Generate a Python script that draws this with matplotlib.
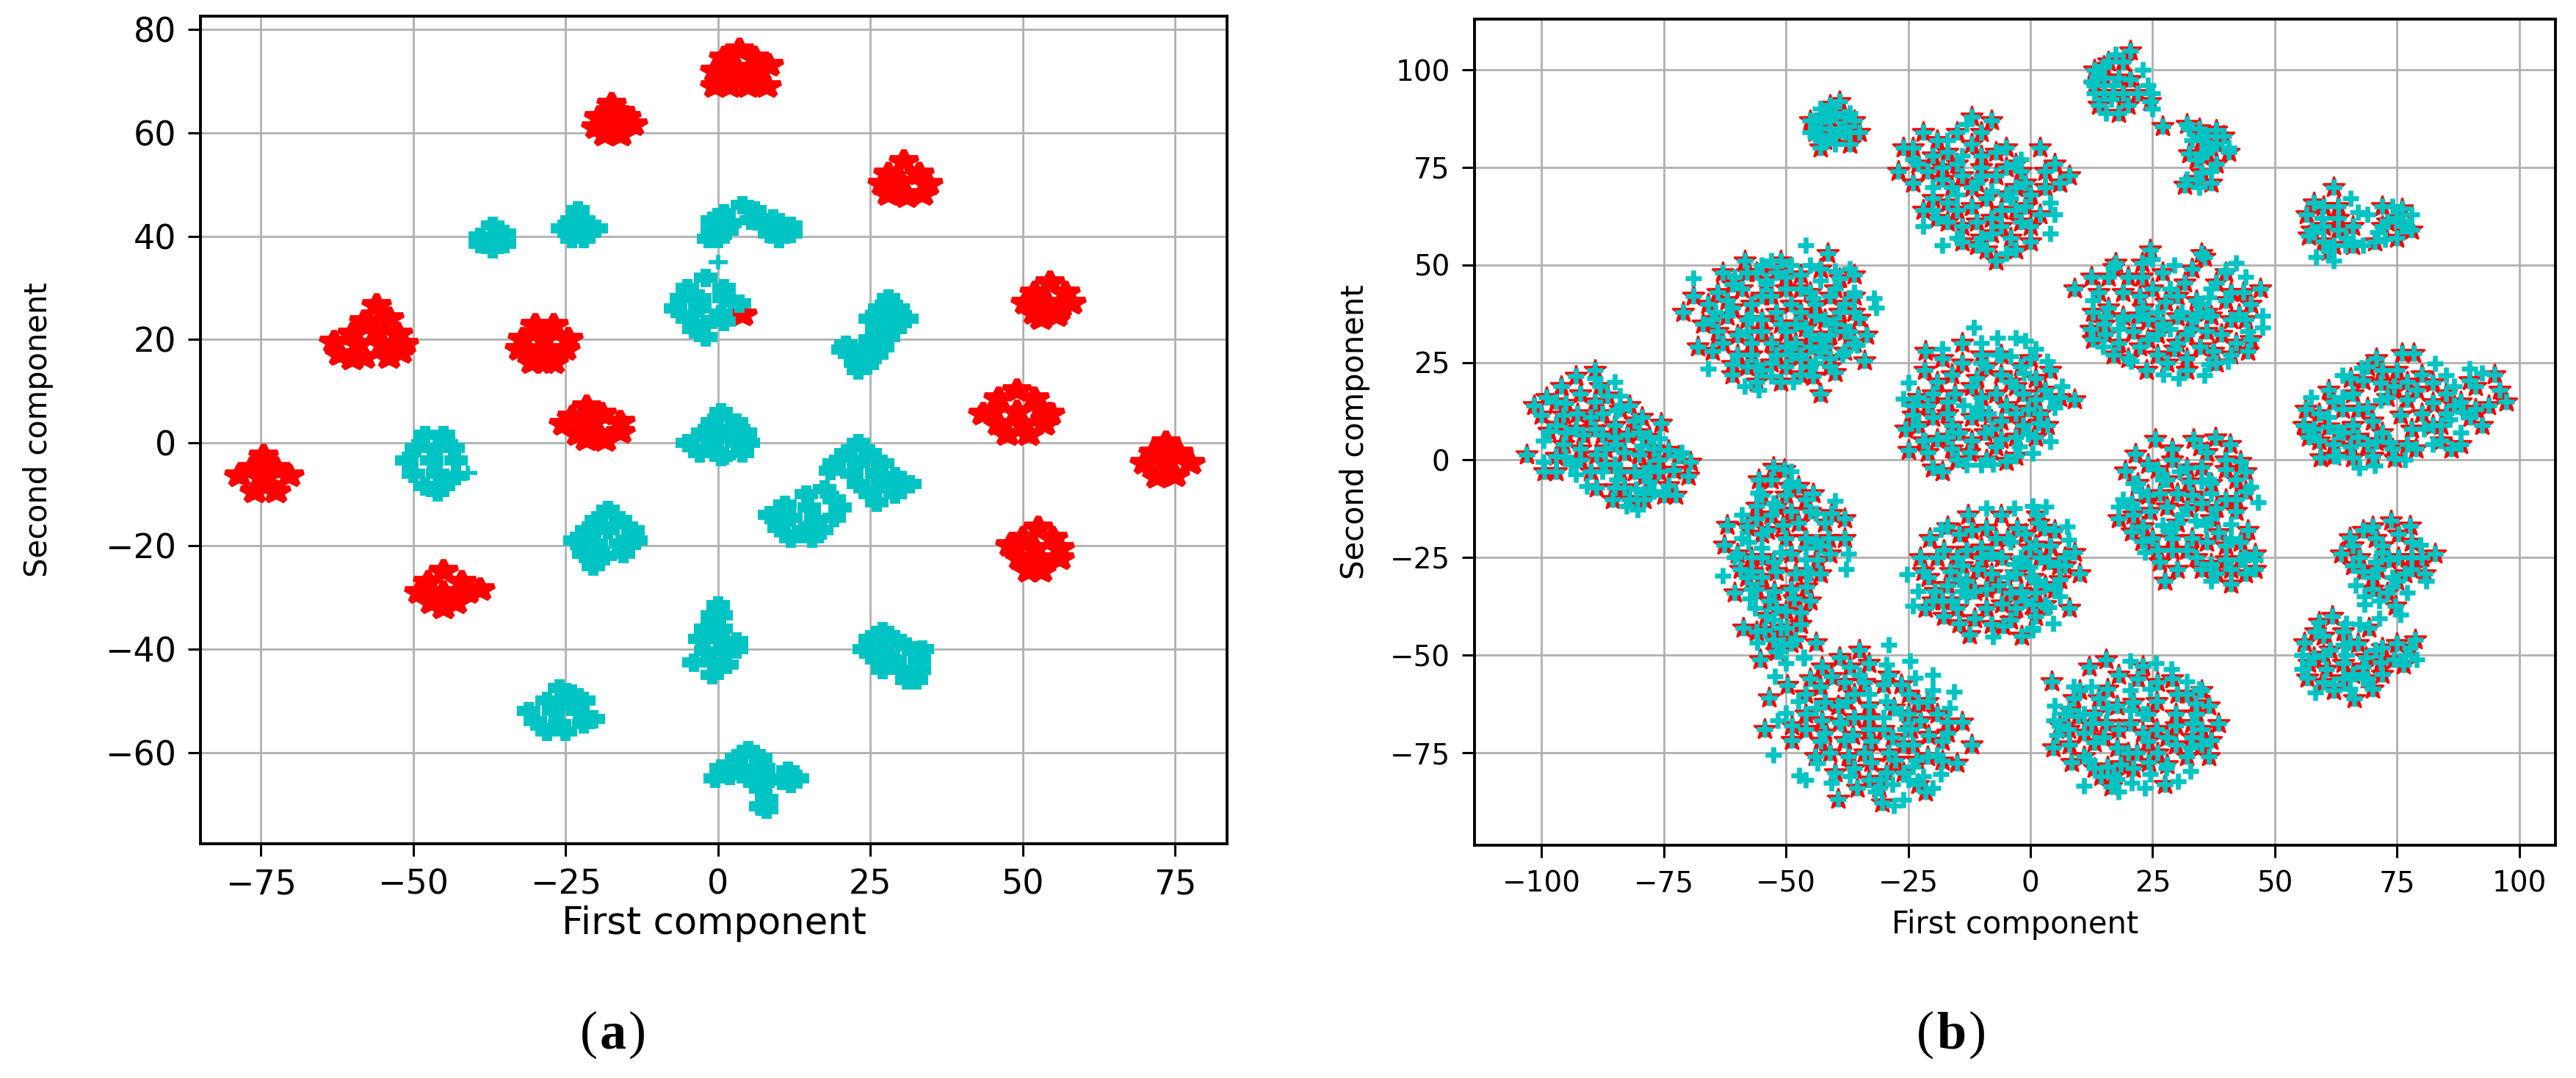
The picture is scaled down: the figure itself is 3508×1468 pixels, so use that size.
import matplotlib
matplotlib.use("Agg")
import matplotlib.pyplot as plt
from matplotlib.markers import MarkerStyle
from matplotlib.transforms import Affine2D

plt.rcParams.update({"font.family": ["DejaVu Sans"], "axes.unicode_minus": True})

W, H = 3508, 1468
RED = "#ff0000"
CYAN = "#00c4c4"
GRID = "#b0b0b0"

x_ticks_a = [-75, -50, -25, 0, 25, 50, 75]
y_ticks_a = [-60, -40, -20, 0, 20, 40, 60, 80]
x_ticks_b = [-100, -75, -50, -25, 0, 25, 50, 75, 100]
y_ticks_b = [-75, -50, -25, 0, 25, 50, 75, 100]

# panel (a), class one
a_red_1 = [(3.5,76),(1,74.5),(6,74.5),(-0.5,72),(3,72.5),(7,72),(8.3,73),(-0.5,69),(2,69),(5,69),(8,69),(4,70.5),(1,71),(6,71.5)]
a_red_2 = [(-17.5,65.5),(-19.5,63),(-15,63),(-20,61),(-17,62),(-14,61.5),(-18.5,59.5),(-16,59.5),(-16,64)]
a_red_3 = [(30.5,54.5),(28,52),(33,52),(27,50),(30,50.5),(34.5,50),(28,48),(31,47.6),(33.5,48)]
a_red_4 = [(-56,26.5),(-58,23.5),(-54,24),(-60,21),(-56,21.5),(-52.5,21),(-63,19.5),(-59,19),(-55,19),(-51.5,19),(-62,17),(-58,16.5),(-54,16.5),(-52,17.5),(-60,16.2)]
a_red_5 = [(-30,22.7),(-27,22.7),(-32,20),(-28.5,20),(-24.5,20),(-32.5,18),(-29,17.5),(-25,18),(-30.5,15.5),(-27,15.5),(-28.5,15.4)]
a_red_6 = [(54.5,31),(52,29),(57,29),(50.5,27),(54,27),(58,27),(52,25),(55.5,24.5),(53,24),(56,25.7)]
a_red_7 = [(-21.5,7),(-24,5),(-19,5.5),(-25.3,3.5),(-21,3.5),(-16,4),(-23,1.5),(-19.5,1.5),(-16,2),(-21.5,0.5),(-18.5,0.4)]
a_red_8 = [(49,10),(46,8.5),(52,8.5),(45,6),(49,6),(53,6.5),(43.5,5.5),(54.5,5.5),(46,3.5),(50,3.5),(53.5,3.5),(47.5,1.5),(51,1.5)]
a_red_9 = [(73.5,0),(71.5,-2),(75.5,-2),(70,-4),(73.5,-4),(77.5,-4),(72,-6.7),(75,-6.5)]
a_red_10 = [(-74.5,-2.6),(-76.5,-5),(-72.5,-5),(-78.5,-6.5),(-74.5,-7),(-70.3,-6.5),(-76,-9.5),(-72.5,-9.5)]
a_red_11 = [(-45,-25),(-47.5,-27),(-42,-27),(-49,-29),(-45,-29),(-41,-29),(-39,-28.5),(-47,-31),(-43,-31),(-45,-32)]
a_red_12 = [(52.5,-16.6),(50,-18.5),(55,-18.5),(48,-20),(52,-20.5),(56,-20.5),(49.5,-22.5),(53,-23),(56,-22.5),(51,-25),(53,-25)]
a_red_13 = [(4,24.7)]

# panel (a), class two
a_cyan_1 = [(-37,42),(-39,40),(-35,40.5),(-39,38.5),(-37,37.5),(-35,38.5),(-37,40)]
a_cyan_2 = [(-23,45),(-24,43),(-22,43),(-25.5,41.5),(-22.5,41),(-20,41.5),(-24,39.5),(-22,39.5)]
a_cyan_3 = [(4,46),(1,44.5),(6,45),(-1,43),(2,42.5),(5.5,43),(-1,41),(1.5,41),(-1.5,39.5),(0,39.5),(9,43.5),(7.5,42),(11,42),(8.5,40.5),(12,40.5),(10,39.5),(12,42)]
a_cyan_4 = [(-2,32),(-5,30),(1,30),(-6,28),(-3,28),(1,28),(3.5,27),(-7,26),(-3,26),(0.5,25),(-5,24),(-2,23),(1,23.5),(-4,22),(-2,20.5)]
a_cyan_5 = [(28,28),(26.5,26),(29.5,26),(25,24),(28,24),(31,24),(26,22),(29,22),(25,20),(28,20.5),(21,19),(24,18.5),(27,18.5),(20.5,18),(23,17),(26,17),(22.5,15.5),(24.5,15),(23,14)]
a_cyan_6 = [(-48,1.5),(-45,1.5),(-49.5,-1),(-46,-1),(-43.5,-1),(-51,-3.5),(-47,-3.5),(-43,-3.5),(-50,-6),(-46,-6),(-43,-6.5),(-48,-8.5),(-45,-8.5),(-46,-9.5)]
a_cyan_7 = [(0.5,6),(-1,4),(3,4),(-2.5,2),(1,2),(4.5,2),(-5,0),(-1,0),(3,0),(5,0),(-3,-2),(1,-2.5),(4,-2),(0.5,-2.8)]
a_cyan_8 = [(23,0),(21,-2),(25,-2),(19,-4),(23,-4),(27,-4),(18.5,-5.5),(22,-6),(26,-6),(29,-6.5),(23,-8),(27,-8),(31.5,-8),(25,-10),(29,-10),(26,-11.5)]
a_cyan_9 = [(17.5,-9),(14.5,-10),(19,-11),(11,-12),(15,-12.5),(20,-12.5),(8.5,-14),(12,-14.5),(16,-15),(19,-14.5),(10,-16.5),(14,-17),(17,-17),(12,-18.5),(15.5,-18.5)]
a_cyan_10 = [(-18,-13),(-20,-15),(-16,-15),(-21.5,-17),(-18,-17),(-14,-17),(-23.5,-19),(-20,-19.5),(-16,-19.5),(-13.5,-19),(-22,-21.5),(-18.5,-22),(-15.5,-21.5),(-20.5,-24)]
a_cyan_11 = [(0,-31.5),(-1,-33.5),(0.5,-33.5),(-2,-36),(0.5,-36),(-3,-38),(0,-38),(3,-38.5),(-2,-40.5),(1,-40.5),(3,-40),(-4,-42.5),(-1,-42.5),(1.5,-43),(-1,-45)]
a_cyan_12 = [(27,-36.5),(25,-38),(29,-38),(24,-40),(27,-40),(31,-39.5),(33.5,-40),(26,-42),(29,-42),(33,-42),(27,-44),(30,-44),(33,-44),(31,-46),(32.5,-46)]
a_cyan_13 = [(-26,-47.5),(-24,-48.5),(-28,-50),(-25,-50),(-22,-50),(-31,-52),(-27,-52),(-23,-52),(-20.5,-53.5),(-30,-54),(-26,-54.5),(-22,-54.5),(-28,-56),(-25,-56)]
a_cyan_14 = [(5,-59.5),(3,-61),(7,-61),(0.5,-63),(4,-63),(7.5,-63),(-0.5,-65),(2,-64.5),(5,-65),(8.5,-65),(11.5,-63.5),(13,-65),(10.5,-65.5),(12,-66),(7,-67),(8,-69),(7,-70.5),(8,-71)]
# lone points with thinner pluses
a_cyan_lone = [(0,35),(-41,-5.8)]

# panel (b), points marked with a star (they also carry a plus)
b_star_1 = [(-39,92),(-41,91),(-45,87),(-36,87),(-35,84),(-37,81),(-43,80),(-42,82),(-39,85),(-42,88),(-40,89),(-38,88),(-44,84),(-41,87),(-37,84),(-40,83),(-43,85)]
b_star_2 = [(-26,80),(-22,84),(-12,88),(-8,87),(-5,80),(-27,74),(2,80),(8,73),(-22,64),(-17,66),(0,60),(-7,51),(0,56),(-11,55),(-14,60),(-20,78),(-15,76),(-10,78),(-7,73),(-18,72),(-12,70),(-5,68),(-3,64),(-8,62),(-12,65),(-10,57),(0,68),(3,70),(5,76),(-2,74),(-21,74),(-17,61),(-4,57)]
b_star_3 = [(20.5,105),(15,101),(13,100),(16,102),(19,102),(13,96),(14,91),(18,89),(20,91),(24.5,92),(17,94),(20.5,97.5),(15,98),(18,98),(27,85.5),(32,86),(34.5,85),(39.5,83),(38,84.5),(40.5,79),(32.5,78.6),(34,77),(38,76),(31.5,70.5),(37,71),(35,73.6),(37,80),(35,82),(14,99),(22,94),(19,94),(15,94),(36,79),(35,78),(34,72),(36,83),(38,81)]
b_star_4 = [(62,70),(58,66),(56.5,63),(60,65),(63,65),(57.5,59),(57,57.5),(72,65),(76,64.5),(73,61),(78,59),(75,57),(70.5,56),(62,55),(63,59),(61,53.5),(60,60),(63,62),(66,60),(60,56),(72,60),(76,60),(75,62),(66,55)]
b_star_5 = [(-71,38),(-69,42),(-68,29),(-65,28),(-67,35),(-63,48),(-58.5,51),(-51,51),(-47,47.5),(-41.5,53),(-39,46.5),(-36,47.5),(-35,36.5),(-33.5,32),(-34,25.5),(-40,22.5),(-44.5,21.5),(-43,17),(-51,20),(-61,22),(-61,24.5),(-41,26),(-64,43),(-59,44),(-54,46),(-50,44),(-45,43),(-41,42),(-38,40),(-62,37),(-57,40),(-52,38),(-47,38),(-42,36),(-38,33),(-60,32),(-55,33),(-50,33),(-45,32),(-41,32),(-36,42),(-57,27),(-52,27),(-47,27),(-42,29),(-60,27),(-55,23),(-50,24),(-56,48),(-61,39),(-65,36),(-48,35),(-55,36),(-44,37),(-53,30),(-48,30),(-39,38)]
b_star_6 = [(-103,1.5),(-99.5,-3),(-97,-3),(-101.6,14),(-99,16),(-96,19),(-93,21.5),(-89,23),(-86.5,16.5),(-82,14),(-79.5,11),(-75.5,9.5),(-80,7),(-74,2.5),(-69.6,-0.5),(-72.6,-9),(-85.5,-10),(-88.7,-7),(-100,11.5),(-98.5,7.5),(-95.6,4),(-91.5,6.5),(-89,8),(-92.7,12),(-87.5,6.5),(-84.7,4),(-82.4,6.5),(-92,0),(-88.7,1.5),(-80,1.5),(-78,-5.5),(-74,-6.5),(-81,-3),(-73,-2.5),(-83,-7),(-78,-1.7),(-95,14.6),(-89,15),(-85,9),(-87.5,12),(-95.6,11.5)]
b_star_7 = [(-21.5,28),(-14,30),(-10,27),(-21.7,23),(0,26),(4,23),(9,15.5),(-24,11.5),(-25.6,8),(-25,2.5),(-20,-2),(-18,-3),(-5,-0.3),(3.4,9),(1.6,9.5),(-20,11),(-16,22),(-14,25),(-11,21),(-6,22),(-1.5,17),(1,15.5),(-15.5,17),(-10,16),(-5,14),(-17,12),(-12,11),(-6,10),(-1.5,9),(-20,17),(-14.6,7),(-19,5.4),(-6,5.4),(-9.3,7),(-12.4,2),(-7,3.5),(-0.5,13),(-21,14)]
b_star_8 = [(9,44),(12.4,47),(17.5,50.6),(12.7,38),(12.3,33.6),(12.7,31),(17,27),(23.7,23),(32,23),(37.4,28),(44.4,28),(47,44),(43.5,43),(42.7,37.3),(35.6,52),(22.8,47),(31.5,45.5),(38,45.5),(22.4,42),(27.7,40.5),(33.9,41),(24,36),(30,36.7),(37,37),(26,32.3),(32,32.3),(39,32.3),(22.4,29),(29.4,28.6),(41,36),(19,43),(19,36.7),(15.3,32.3),(34.7,29),(22.8,50.6),(24.5,54),(35,53),(17,49.4)]
b_star_9 = [(61,18),(56.3,13),(55.9,9),(57,6),(59.4,0.7),(66,0.7),(74.5,0.4),(78.8,3),(86,3),(92.4,9),(97.3,15),(95,22),(89.8,20.5),(76,27.4),(78.4,27.4),(70.8,26),(65.5,21),(68,20.4),(74.4,19),(82.3,19.8),(86.7,14),(70,10),(75.7,11.6),(82.3,9),(63.8,13),(61,8.5),(69,13.5),(77,15.5),(82.3,14.8),(93.7,14),(91,19),(65.5,3.5),(70.8,4.8),(77,4),(84,9),(71.7,19.8)]
b_star_10 = [(25.5,5.4),(33.4,5.4),(37.8,5.7),(40.9,4),(21.5,1.6),(19.4,-2.8),(44,-3),(43,-0.3),(34.7,3.5),(18,-15),(20.8,-18.3),(22.8,-20.8),(26.5,-26),(27.5,-31),(35,-28),(41,-31.7),(46,-28),(46,-24),(44.5,-18),(42,-10),(40,-10),(26.5,-8.6),(24.5,-13),(30,-8.6),(32,-12.4),(38,-12.4),(33,-20),(29,-23),(38.5,-18.6),(40,-25.5),(43,-25.5),(37,-26.7),(32,-23),(26,-2.4),(29,0),(35,-1.8),(40,-2.4),(32.5,-5.5),(20.8,-11)]
b_star_11 = [(-20.5,-20),(-22.6,-25),(-22,-28.6),(-12.7,-14),(-6,-14),(1.3,-14),(-14.5,-19),(-17.7,-23),(-15,-25),(-21.4,-38),(-17.7,-40),(-12.4,-44.6),(-1.8,-45),(-5.5,-42.4),(-11.4,-40.5),(-14.5,-41.8),(0.5,-37),(-20.8,-30),(-16.4,-28.6),(-19.5,-33.6),(-17,-32),(-10.8,-28),(-5.8,-25),(-10,-22.4),(-4.6,-20),(-0.2,-22.4),(2.9,-17.4),(-6.5,-32),(-2,-33.6),(-11.4,-33.6),(-5.8,-36.8),(-9,-17.4),(-2.7,-17.4),(10,-29),(9,-23.6),(8,-38),(6,-30.5),(1.7,-16),(5.8,-27),(1,-21.7),(3,-32),(-1,-36),(3.7,-26),(0.4,-30)]
b_star_12 = [(-52.5,-1.8),(-50.3,-2.4),(-55.6,-4.9),(-44.4,-8.6),(-56,-11.7),(-40.7,-13.6),(-38,-15),(-38,-20),(-41.3,-20),(-62,-16.7),(-62.7,-21.7),(-59.4,-28),(-57,-28.6),(-60.6,-34),(-45.8,-28.6),(-43.6,-25.5),(-45.8,-32.4),(-48.3,-35.5),(-52,-28.6),(-48,-29),(-52.4,-33.6),(-53.5,-36),(-50,-38.6),(-54.4,-43.6),(-58.7,-43),(-49.9,-43),(-48,-46),(-43.9,-46.8),(-55.3,-51),(-52.5,-46),(-50.6,-16.7),(-47.5,-16),(-53.7,-18),(-49.4,-6.7),(-47.5,-6.7),(-52,-11.7),(-57,-24.9),(-52.5,-26)]
b_star_13 = [(-35,-48.6),(-39,-50.5),(-42.6,-53),(-45,-56),(-49.7,-57.7),(-53.4,-60.8),(-54.4,-69),(-48.8,-68),(-48.8,-71.8),(-43,-72),(-26.4,-57.4),(-21,-61.8),(-14,-67),(-16.9,-70),(-12,-73),(-15,-77.7),(-21.4,-85),(-30.4,-87.7),(-39.4,-86.8),(-35.4,-84),(-40,-80),(-40.7,-55.5),(-43,-58),(-30,-57.4),(-37.6,-61.8),(-39.4,-63),(-42.6,-66.8),(-33,-66),(-28,-63.6),(-22.6,-66.8),(-20.8,-70.5),(-36.3,-70.5),(-32.6,-72),(-28.2,-71),(-24,-73),(-37.3,-76),(-32.6,-77.4),(-27.6,-76.8),(-23.3,-76.8),(-30.7,-81.8),(-29.5,-80),(-38,-71.8),(-24.5,-69)]
b_star_14 = [(15.5,-51),(12,-53),(4.4,-56.8),(8.8,-61),(23,-52.7),(29,-56),(35,-59),(36.5,-63),(38.5,-67.4),(37,-71.8),(36.5,-76),(4.7,-73.6),(8.4,-77.4),(14.4,-81),(16.5,-83.6),(27.5,-83),(24.2,-77.4),(15.8,-58.6),(17.8,-63),(9.8,-65.5),(12.4,-67.4),(15.5,-67.4),(20.5,-67.4),(25.8,-69),(29.8,-73),(33,-67.4),(29.8,-65),(25.8,-61.8),(13,-72.4),(17.8,-73.6),(21.8,-74.9),(15.8,-78.6),(18.5,-78),(33.8,-62.4),(35,-69),(7.8,-69),(29.8,-68)]
b_star_15 = [(73.8,-15.5),(77.6,-16.8),(68,-18),(65.3,-19.9),(63.6,-24),(82.7,-24),(80.7,-29),(75.3,-19),(70.6,-20),(70,-30),(74.6,-37.4),(76.6,-29),(78,-25),(68,-28.6),(73.3,-25.5),(67.3,-25),(75.3,-25)]
b_star_16 = [(61.8,-40),(59,-41.4),(69.3,-43),(58.3,-44),(56,-46.8),(56.6,-55.8),(62,-59),(66.3,-61),(70,-58.6),(71.6,-51.8),(72,-54.9),(78.7,-46),(76.3,-52.4),(74.3,-51),(65.3,-46.8),(60.6,-53.6),(66,-54.9),(61.3,-48.6),(58,-50.5),(68.6,-50.5),(77.6,-48)]

# panel (b), further points in the dense middle of the big groups
b_fill_2 = [(-24,80),(-19,82),(-15,84),(-10,84),(-17,79),(-12,81),(-7,79),(-3,76),(-23,76),(-18,75),(-14,73),(-10,75),(-5,75),(-1,71),(3,74),(6,71),(-24,71),(-20,67),(-16,70),(-9,67),(-1,65),(2,63),(-19,62),(-15,64),(-11,61),(-6,60),(-2,61),(-14,56),(-8,58),(-3,54),(-6,64),(-11,71),(-3,70),(-9,54)]
b_fill_5 = [(-66,40),(-61,45),(-58,48),(-52,48),(-47,44),(-43,49),(-40,44),(-36,38),(-64,33),(-63,30),(-58,36),(-53,42),(-49,40),(-44,40),(-40,35),(-57,30),(-51,35),(-46,34),(-43,31),(-38,28),(-36,30),(-58,24),(-53,25),(-49,27),(-45,24),(-41,24),(-56,20),(-47,22),(-62,41),(-50,47),(-55,42),(-45,29),(-50,29)]
b_fill_6 = [(-97,15),(-92,17),(-88,19),(-84,13),(-97,9),(-93,8),(-90,11),(-85,6),(-81,10),(-78,6),(-77,3),(-95,7),(-97,1),(-92,3),(-87,-1),(-83,2),(-90,-3),(-85,-7),(-79,-4),(-76,-3),(-72,1),(-70,-4),(-75,-9),(-79,-10),(-87,3),(-84,-3),(-82,-10),(-76,0)]
b_fill_7 = [(-18,26),(-6,27),(-2,24),(-19,20),(-9,24),(-4,20),(1,21),(-23,16),(-17,15),(-12,19),(-7,17),(-3,19),(3,18),(6,16),(-23,9),(-16,9),(-10,12),(-3,12),(2,12),(-22,5),(-16,3),(-12,5),(-3,6),(1,6),(-21,2),(-15,0),(-9,0),(-3,1),(-24,14),(-8,8),(-17,6)]
b_fill_8 = [(16,47),(20,47),(27,48),(33,49),(40,48),(14,43),(25,44),(41,43),(16,39),(23,39),(45,40),(15,35),(21,33),(27,35),(33,36),(40,41),(44,36),(18,30),(24,31),(30,30),(36,33),(42,30),(20,26),(26,27),(32,26),(38,25),(28,25),(45,31),(30,42),(36,38),(22,37),(41,27)]
b_fill_9 = [(59,12),(59,5),(62,4),(62,15),(66,17),(66,9),(72,23),(75,23),(80,22),(73,16),(79,18),(85,17),(88,15),(91,13),(96,18),(84,5),(88,4),(67,6),(72,7),(78,8),(74,3),(69,4),(62,1),(70,1),(80,12),(85,12),(90,11),(64,7),(67,13),(77,20),(69,24),(58,8)]
b_fill_10 = [(29,3),(36,2),(40,0),(24,-1),(32,-2),(22,-6),(28,-5),(37,-6),(42,-5),(24,-9),(33,-9),(44,-8),(21,-14),(28,-12),(35,-11),(42,-13),(23,-17),(30,-16),(37,-15),(25,-20),(36,-21),(43,-21),(26,-23),(34,-25),(40,-22),(30,-28),(38,-29),(44,-29),(29,-20),(41,-28)]
b_fill_11 = [(-17,-17),(-12,-18),(-7,-20),(-1,-19),(5,-18),(-19,-25),(-13,-23),(-8,-24),(-2,-26),(4,-22),(7,-25),(-20,-36),(-14,-27),(-8,-29),(-3,-29),(7,-27),(-16,-36),(-13,-31),(-9,-33),(-4,-34),(1,-34),(5,-33),(-15,-38),(-9,-38),(-3,-38),(3,-37),(-8,-42),(-4,-41),(1,-40),(-18,-36),(-10,-25),(2,-25)]
b_fill_12 = [(-53,-5),(-50,-9),(-46,-10),(-55,-9),(-53,-14),(-49,-13),(-45,-13),(-42,-16),(-56,-15),(-50,-20),(-46,-20),(-41,-24),(-58,-17),(-55,-19),(-60,-24),(-55,-25),(-49,-24),(-43,-29),(-55,-30),(-49,-33),(-45,-36),(-56,-33),(-52,-38),(-47,-39),(-54,-40),(-51,-43),(-47,-42),(-56,-44),(-52,-49),(-49,-47),(-58,-30),(-43,-22)]
b_fill_13 = [(-37,-53),(-33,-52),(-38,-57),(-34,-57),(-29,-55),(-25,-60),(-23,-62),(-19,-65),(-17,-67),(-46,-60),(-42,-62),(-36,-60),(-33,-63),(-46,-65),(-39,-67),(-36,-66),(-30,-69),(-25,-65),(-18,-72),(-46,-69),(-41,-75),(-34,-75),(-26,-73),(-21,-76),(-18,-77),(-44,-76),(-36,-79),(-33,-82),(-26,-80),(-23,-83),(-31,-84),(-42,-70),(-33,-69),(-29,-75)]
b_fill_14 = [(18,-55),(22,-56),(26,-57),(32,-60),(10,-59),(14,-61),(21,-62),(30,-60),(8,-64),(13,-65),(24,-65),(34,-65),(6,-68),(11,-70),(18,-69),(23,-70),(28,-71),(33,-71),(8,-73),(15,-71),(20,-75),(26,-75),(32,-76),(11,-76),(17,-81),(21,-79),(28,-78),(13,-79),(35,-73),(24,-72)]
b_fill_15 = [(66,-22),(70,-17),(72,-22),(78,-21),(80,-25),(66,-27),(71,-28),(75,-31),(78,-28),(73,-34),(70,-33)]
b_fill_16 = [(60,-45),(64,-44),(67,-47),(60,-50),(64,-52),(68,-53),(57,-52),(60,-57),(64,-56),(69,-56),(72,-48),(75,-47)]

# panel (b), points that only show a plus
b_plus_1 = [(-45,84),(-43,90),(-37,89),(-40,81),(-44,87),(-41,85),(-38,84),(-44,83)]
b_plus_2 = [(-17,82),(-13,86),(-20,70),(-24,77),(-2,77),(4,66),(5,63),(4,58),(-18,55),(-22,60),(-20,64),(-15,57),(-5,53),(-4,67),(-10,73),(-14,78),(-15,68),(-8,69)]
b_plus_3 = [(17.5,104),(23,100),(24,96),(25,94),(25,90),(12.5,97),(13,94),(15.5,89),(17,96),(16.5,92.5),(40.5,80),(35,83),(32,72),(34.5,70),(32.5,85),(37,74),(33,82)]
b_plus_4 = [(65.5,67),(67,63.5),(69,63),(74,65),(78,63),(71,58.5),(58,58.5),(58.5,52),(62,51),(64.5,55),(66,56),(68,55),(77,60),(72.6,56.5),(64.6,57),(59.6,62)]
b_plus_5 = [(-69,46.5),(-46,55),(-45,50),(-40,48.5),(-37,49),(-32,41.5),(-31.5,39),(-35.5,29.5),(-38.5,27),(-66,23.5),(-58.5,19),(-55.5,18),(-48.5,20),(-47,26),(-44,25),(-60.5,47),(-64.5,38),(-57,36.5),(-58,33),(-55,50),(-53,51),(-49,50),(-43,46),(-44.5,41.5),(-54,45),(-56,24),(-53,21.5),(-36,43),(-37,33),(-43,28)]
b_plus_6 = [(-85,20),(-89,21),(-84,16.5),(-99.6,-0.5),(-93,-3.6),(-90.7,-6.7),(-82.6,-11.7),(-80.3,-12.7),(-75.8,5.5),(-71.4,2),(-79.5,3.6),(-95,0.8),(-99.6,5),(-94,-1),(-87.5,-3),(-85,-1),(-84.6,-5),(-80.6,-7.4),(-77,-8),(-79,-8.6),(-84.7,12.7)]
b_plus_7 = [(-11.5,34),(-6.7,31.4),(-3,31.4),(-1,30.5),(1,28.5),(-18,28.5),(-10,30),(-4,26.7),(3.4,25.4),(6.5,19),(-25,19.8),(-26,15.7),(4,16),(5,13.5),(4,4.8),(0.4,1.7),(-13,-1.2),(-10,-1.2),(-7.6,-1),(-21.7,5),(-2.3,3.5),(-0.5,6.6),(-10,25),(-6.7,27),(-13.7,14),(-11,13.5),(-8.5,12),(-1.4,22.3)]
b_plus_8 = [(25,51.4),(29.4,50),(42,50.6),(44,47),(47.5,37),(47.5,34),(44.4,33),(40.4,25.4),(36.5,24.5),(35.6,21.7),(30.3,21),(27.2,22),(20.6,25.4),(14.9,29),(12.7,41),(18,33.6),(15.3,36.7),(19,36),(31,38),(34,36.7),(36.5,41.6),(40,48.6),(28.5,44),(26,38),(32.9,33.6),(37,44),(28.5,33.6),(34.7,39.9)]
b_plus_9 = [(67.3,-2),(70.4,-1.5),(62.9,1),(76.6,0),(82.3,4),(88,7),(89.8,23.5),(92.4,22.3),(82.7,24.8),(85,21.7),(86.7,19),(67.8,23.6),(63.8,21.7),(57.4,16),(63.8,16),(71.7,15.4),(88.5,12.3),(61,11),(62.9,7.3),(73.5,4.7),(80.5,8),(85.8,10.4)]
b_plus_10 = [(46.5,-10.8),(19,-10),(18,-12),(21,-12.4),(22.5,-8),(21,-6),(41,-16.4),(41,-20),(45,-6.8),(37,-31),(23.5,-23.6),(28.5,-18.6),(28.5,-17.4),(35,-5.5),(30.5,-3),(45.9,-25.5),(43.9,-24.9),(37,-8.6),(33.8,-15.5),(27,-16.7),(31,-14),(36.5,-5),(27,-5),(35.9,-16.7)]
b_plus_11 = [(-18.3,-17.7),(-9,-12.4),(-3.3,-12.4),(0.4,-11.7),(3.2,-12),(-25.2,-29.2),(-23,-33.6),(-24,-37.4),(-7.7,-45.2),(0.5,-43),(3.8,-37.7),(7.5,-17),(6,-35),(4.7,-41.8),(0.4,-43.6),(3.4,-37.7),(7.8,-20.5),(-14,-33.6),(-13,-35),(-3.3,-26.7),(-2,-25),(-14.5,-30.5),(-4,-21),(-0.2,-27.4),(-4.6,-30),(1,-31)]
b_plus_12 = [(-55.7,-8.3),(-40,-10.5),(-59,-14),(-59,-20),(-60.6,-25),(-63,-29.7),(-57,-33),(-57.3,-35.5),(-37.3,-24),(-37.7,-28),(-45,-29),(-46.3,-50.5),(-50,-52),(-55.8,-46.8),(-51,-49),(-52.5,-11),(-46,-22.4),(-46,-25.5),(-57.7,-21),(-48.9,-3),(-48.9,-5.5),(-51,-23.6),(-55,-22.4),(-43.8,-13.6),(-43.8,-21),(-56.3,-38),(-52.5,-41),(-50.6,-47.4)]
b_plus_13 = [(-29,-47.4),(-24.6,-51.4),(-20,-55),(-23.6,-55.8),(-29.4,-52.4),(-20,-59),(-15.6,-59.4),(-16.5,-63.5),(-52.2,-55.4),(-46.4,-50.8),(-47.4,-61.8),(-50,-64.9),(-51.6,-66.8),(-52.5,-75.5),(-43.5,-77.7),(-47.3,-80.8),(-46,-82),(-40.7,-82.7),(-37,-81),(-18.3,-80.5),(-20,-84),(-26,-87),(-28,-88.6),(-31.7,-85),(-28.2,-83),(-25,-82),(-22,-81),(-19,-75.5),(-43.8,-63.6),(-35,-55),(-33,-60),(-29.5,-61.8),(-25.7,-69),(-38.8,-67.4),(-30,-66),(-26.4,-64.9),(-24,-78.6)]
b_plus_14 = [(20.5,-51.4),(25.7,-52),(28.8,-53.6),(34.5,-58.6),(32,-56.8),(8.8,-58),(5,-63),(4.8,-66.8),(5.4,-70.5),(32.8,-79.6),(27.8,-79),(30.2,-82.4),(20.8,-82.7),(23.5,-84),(18,-85),(11,-83.5),(12,-76.8),(32.8,-73.6),(24.5,-80.5),(17.8,-81.8),(12.4,-58),(20.5,-59),(24.5,-58.6),(23,-65),(20.5,-64),(11,-65),(7,-65),(15.8,-63.6)]
b_plus_15 = [(79.7,-21.8),(66.6,-32),(68.3,-35),(68.3,-37),(71.3,-36),(77,-34),(75.7,-39.6),(71.3,-40.5),(81,-31),(74,-32.4),(74,-30),(70.6,-26),(72,-23.6)]
b_plus_16 = [(58.3,-59.6),(67.3,-42),(64.6,-41.8),(55.6,-53.6),(55.6,-50),(76.7,-50),(79,-51),(64.6,-50),(64,-47.4),(65.3,-58.6),(62,-57.4),(68,-56),(70.6,-48.6)]

a_red = [a_red_1, a_red_2, a_red_3, a_red_4, a_red_5, a_red_6, a_red_7, a_red_8, a_red_9, a_red_10, a_red_11, a_red_12, a_red_13]
a_cyan = [a_cyan_1, a_cyan_2, a_cyan_3, a_cyan_4, a_cyan_5, a_cyan_6, a_cyan_7, a_cyan_8, a_cyan_9, a_cyan_10, a_cyan_11, a_cyan_12, a_cyan_13, a_cyan_14]
b_star = [b_star_1, b_star_2, b_star_3, b_star_4, b_star_5, b_star_6, b_star_7, b_star_8, b_star_9, b_star_10, b_star_11, b_star_12, b_star_13, b_star_14, b_star_15, b_star_16,
          b_fill_2, b_fill_5, b_fill_6, b_fill_7, b_fill_8, b_fill_9, b_fill_10, b_fill_11, b_fill_12, b_fill_13, b_fill_14, b_fill_15, b_fill_16]
b_plus = [b_plus_1, b_plus_2, b_plus_3, b_plus_4, b_plus_5, b_plus_6, b_plus_7, b_plus_8, b_plus_9, b_plus_10, b_plus_11, b_plus_12, b_plus_13, b_plus_14, b_plus_15, b_plus_16]


def pixel_axes(fig, left, top, right, bottom):
    return fig.add_axes([left / W, 1 - bottom / H, (right - left) / W, (bottom - top) / H])


def scatter(ax, clusters, marker, color, size, mew):
    for pts in clusters:
        xs, ys = zip(*pts)
        ax.plot(xs, ys, ls="none", marker=marker, color=color, ms=size, mew=mew)


def style(ax, xlim, ylim, xticks, yticks, tick_size, xlabel_size, labelpad, label_x):
    ax.set_xlim(*xlim)
    ax.set_ylim(*ylim)
    ax.set_xticks(xticks)
    ax.set_yticks(yticks)
    ax.grid(True, color=GRID, lw=2.0)
    ax.set_axisbelow(True)
    ax.tick_params(length=12, width=2.2, pad=12, labelsize=tick_size)
    for spine in ax.spines.values():
        spine.set_linewidth(2.8)
    ax.set_xlabel("First component", fontsize=xlabel_size, labelpad=labelpad)
    ax.set_ylabel("Second component", fontsize=30)
    ax.yaxis.set_label_coords(label_x, 0.5)


def caption(fig, letter, xs):
    y = 1 - 1427 / H
    for text, x, weight in zip(["(", letter, ")"], xs, ["normal", "bold", "normal"]):
        fig.text(x / W, y, text, ha="center", va="baseline", fontsize=52, family="Liberation Serif", weight=weight)


fig = plt.figure(figsize=(W / 100, H / 100), dpi=100)

ax_a = pixel_axes(fig, 273, 22, 1671, 1149)
star_wide = MarkerStyle("*", transform=Affine2D().scale(1.4, 1))
plus_wide = MarkerStyle("+", transform=Affine2D().scale(1.3, 1))
scatter(ax_a, a_red, star_wide, RED, 21, 5.5)
scatter(ax_a, a_cyan, plus_wide, CYAN, 18, 10)
scatter(ax_a, [a_cyan_lone], plus_wide, CYAN, 14, 4)
style(ax_a, (-84.9, 83.5), (-77.7, 82.6), x_ticks_a, y_ticks_a, 33, 37, 4, -0.143)

ax_b = pixel_axes(fig, 2008, 26, 3480, 1151)
scatter(ax_b, b_star, "*", RED, 22, 1.8)
scatter(ax_b, b_star + b_plus, "+", CYAN, 16, 4.8)
style(ax_b, (-113.7, 107.4), (-98.7, 113), x_ticks_b, y_ticks_b, 28, 30, 11, -0.0965)

caption(fig, "a", [802, 835, 868])
caption(fig, "b", [2622, 2657, 2693])

fig.savefig("out.png", dpi=100)
